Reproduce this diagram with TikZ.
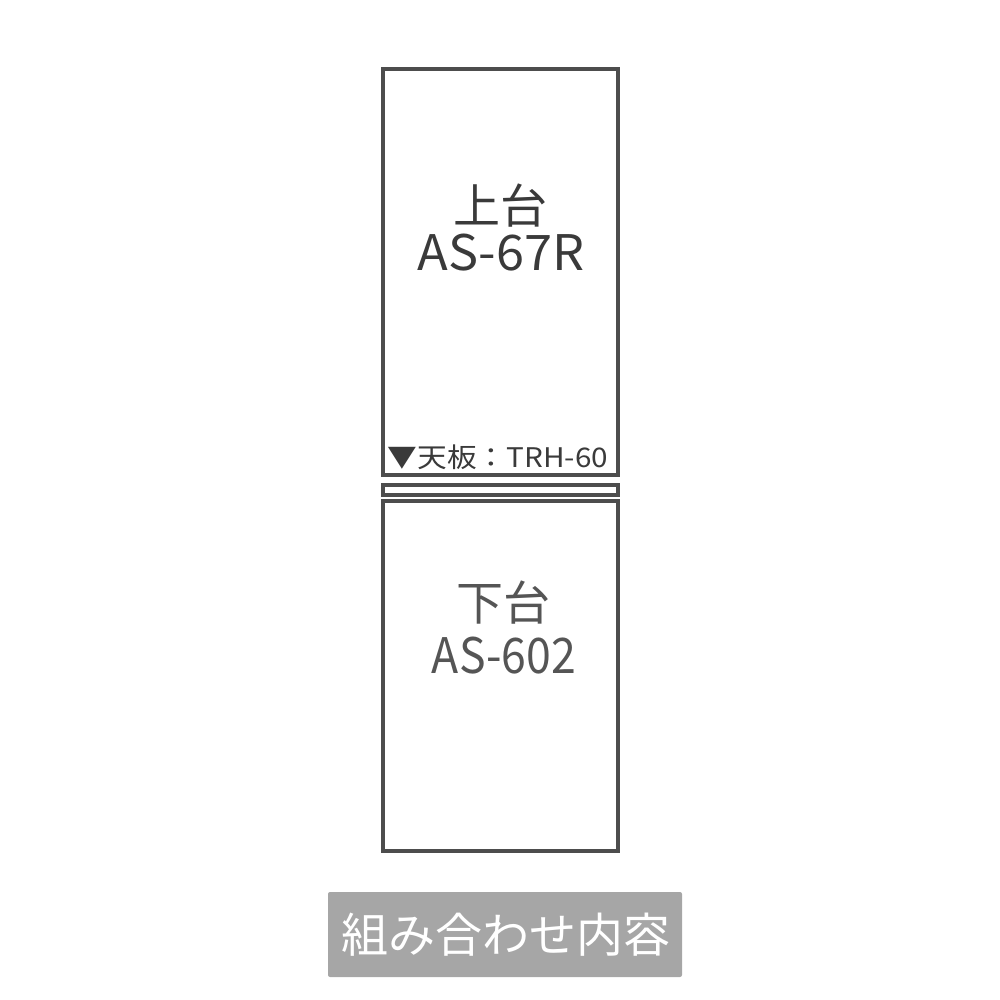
\documentclass[tikz,border=0pt]{standalone}
\usepackage{fontspec}
\setmainfont{Noto Sans CJK JP}
\newfontfamily\widefont[FakeStretch=1.03]{Noto Sans CJK JP}
\newfontfamily\notefont[FakeStretch=1.1]{Noto Sans CJK JP}
\newfontfamily\narrowfont[FakeStretch=0.91]{Noto Sans CJK JP}
\usetikzlibrary{positioning}

\definecolor{boxline}{HTML}{4D4D4D}
\definecolor{ink}{HTML}{3A3A3A}
\definecolor{softink}{HTML}{555555}
\definecolor{capfill}{HTML}{A6A6A6}

\begin{document}
\begin{tikzpicture}[x=1pt,y=1pt,
    unit/.style={rectangle,draw=boxline,line width=4pt,minimum width=235pt,inner sep=0pt,outer sep=0pt},
    model/.style={text=ink,font=\fontsize{47}{49}\selectfont,anchor=base,inner sep=0pt},
    code/.style={text=ink,font=\widefont\fontsize{49}{51}\selectfont,anchor=base,inner sep=0pt},
    note/.style={text=ink,font=\notefont\fontsize{27}{30}\selectfont,anchor=base,inner sep=0pt},
    caption/.style={rectangle,fill=capfill,rounded corners=2pt,minimum width=354pt,minimum height=85pt,inner sep=0pt}]
  \useasboundingbox (0,0) rectangle (1000,-1000);

  \node[unit,minimum height=406pt] (upper) at (500,-272) {};
  \node[unit,minimum height=10pt]  (board) [below=10pt of upper] {};
  \node[unit,minimum height=350pt] (lower) [below=6pt of board] {};
  \node[caption] (cap) at (505,-934.5) {};

  \node[model] (upname)  at (500,-223) {上台};
  \node[code]  (upcode)  at (501,-270) {AS-67R};
  \node[note]  (topnote) at (498,-467) {▼天板：TRH-60};
  \node[model,text=softink] (lowname) at (503,-620) {下台};
  \node[code,text=softink,font=\narrowfont\fontsize{49}{51}\selectfont] (lowcode) at (504,-673) {AS-602};
  \node[model,text=white] (captext) at (506,-952) {組み合わせ内容};
\end{tikzpicture}
\end{document}
